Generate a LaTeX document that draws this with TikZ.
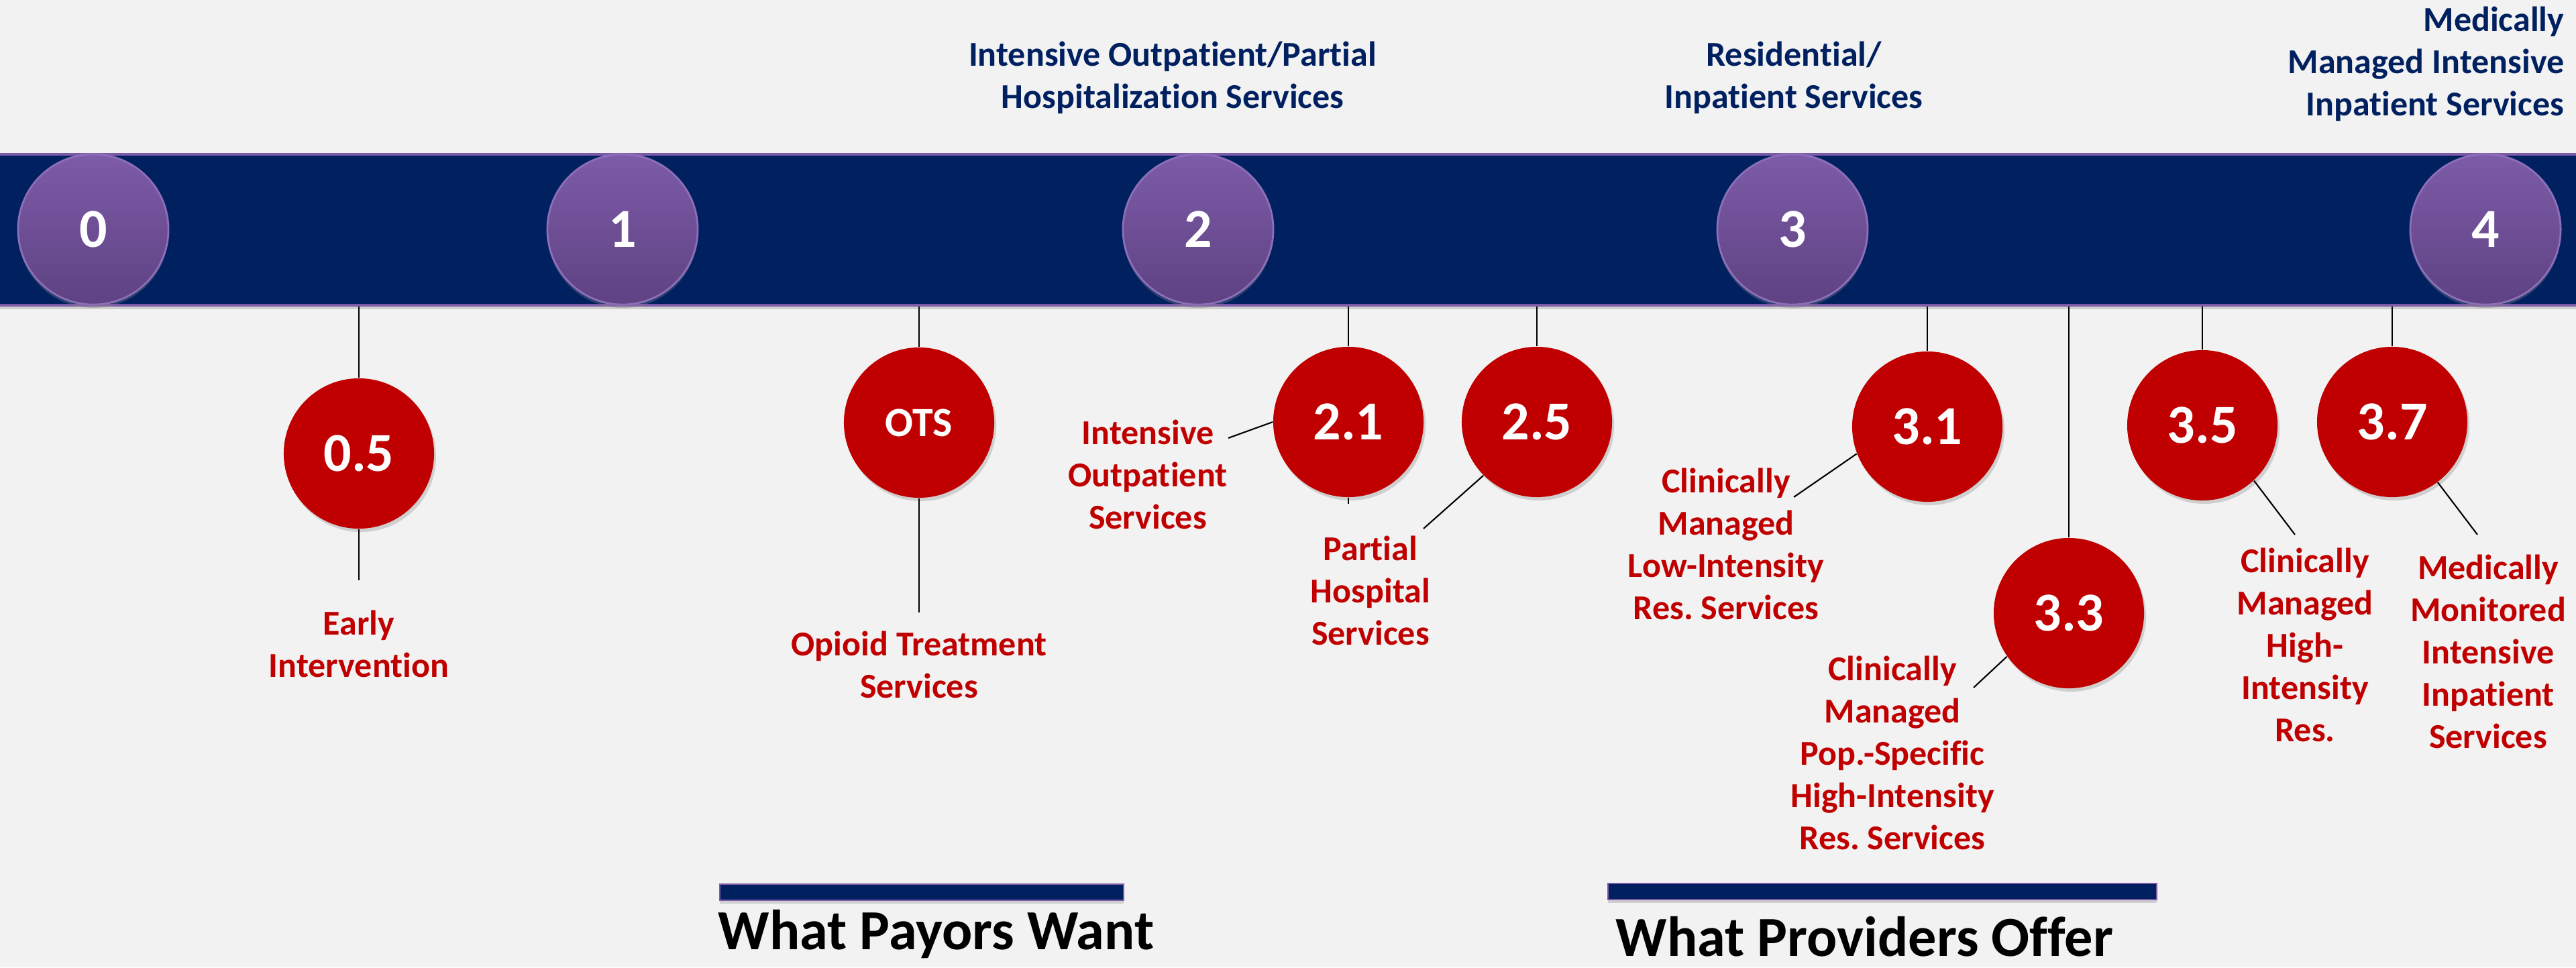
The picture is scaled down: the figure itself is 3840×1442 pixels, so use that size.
\documentclass[tikz,border=0pt]{standalone}
\usepackage{fontspec}
\setmainfont{Carlito}[Ligatures=NoCommon]
\frenchspacing
\usetikzlibrary{positioning,shadows}
\definecolor{navy}{RGB}{0,32,96}
\definecolor{redC}{RGB}{192,0,0}
\definecolor{purpT}{RGB}{125,91,168}
\definecolor{purpB}{RGB}{94,66,130}
\definecolor{purpE}{RGB}{140,110,185}
\definecolor{paper}{RGB}{242,242,242}
\newcommand{\labfont}{\fontsize{14.8}{17.9}\selectfont\bfseries}
\newcommand{\numfont}{\fontsize{23.3}{28}\selectfont\bfseries}
\newcommand{\otsfont}{\fontsize{17.6}{21}\selectfont\bfseries}
\newcommand{\capfont}{\fontsize{24}{28}\selectfont\bfseries}
\begin{document}
\begin{tikzpicture}[x=0.01cm, y=-0.01cm,
    bar/.style = {rectangle, minimum width=39cm, minimum height=2.25cm, inner sep=0pt, fill=navy, draw=purpT, line width=1pt, drop shadow={shadow xshift=0pt, shadow yshift=-0.06cm, opacity=.3}},
    tab/.style = {rectangle, minimum height=0.24cm, inner sep=0pt, fill=navy, draw=purpT, line width=0.6pt, drop shadow={shadow xshift=0pt, shadow yshift=-0.05cm, opacity=.3}},
    level/.style = {circle, minimum size=2.24cm, inner sep=0pt, draw=purpE, line width=0.8pt, top color=purpT, bottom color=purpB, text=white, font=\numfont, drop shadow={shadow xshift=0pt, shadow yshift=-0.05cm, opacity=.35}},
    ball/.style = {circle, minimum size=2.24cm, inner sep=0pt, fill=redC, text=white, font=\numfont, drop shadow={shadow xshift=0.03cm, shadow yshift=-0.05cm, opacity=.3}},
    lab/.style = {text=redC, font=\labfont, align=center, anchor=base, inner sep=0pt},
    head/.style = {text=navy, font=\labfont, align=center, anchor=base, inner sep=0pt},
    capt/.style = {text=black, font=\capfont, anchor=base west, inner sep=0pt},
    wire/.style = {line width=0.6pt}]
    \useasboundingbox (0,0) rectangle (3840,1442);
    \fill[paper] (0,0) rectangle (3840,1442);
    % levels along the bar
    \node[bar] (bar) at (1920,342.5) {};
    \foreach \n/\x in {0/139,1/928,2/1786,3/2672,4/3705}
        \node[level] (lv\n) at (\x,342) {\n};
    % headings (anchored on the last line)
    \node[head] (h2) at (1748,161) {Intensive Outpatient/Partial\\Hospitalization Services};
    \node[head] (h3) at (2674,161) {Residential/\\Inpatient Services};
    \node[head, align=right, anchor=base east] (h4) at (3823,172) {Medically\\Managed Intensive\\Inpatient Services};
    % sub levels
    \node[ball] (l05) at (535,676) {0.5};
    \node[ball, font=\otsfont] (ots) at (1370,630) {OTS};
    \node[ball] (l21) at (2010,629) {2.1};
    \node[ball] (l25) at (2291,629) {2.5};
    \node[ball] (l31) at (2873,636) {3.1};
    \node[ball] (l33) at (3084,914) {3.3};
    \node[ball] (l35) at (3283,634) {3.5};
    \node[ball] (l37) at (3566,629) {3.7};
    \foreach \b in {l05,ots,l21,l25,l31,l33,l35,l37}
        \draw[wire] (bar.south -| \b) -- (\b.north);
    \coordinate (e05) at (535,865);
    \coordinate (eots) at (1370,913);
    \coordinate (e21) at (2010,751);
    \draw[wire] (l05.south) -- (e05);
    \draw[wire] (ots.south) -- (eots);
    \draw[wire] (l21.south) -- (e21);
    % labels (anchored on the last line)
    \node[lab] (t05) at (535,1009) {Early\\Intervention};
    \node[lab] (tots) at (1370,1040) {Opioid Treatment\\Services};
    \node[lab] (t21) at (1711,788) {Intensive\\Outpatient\\Services};
    \node[lab] (t25) at (2043,961) {Partial\\Hospital\\Services};
    \node[lab] (t31) at (2573,923) {Clinically\\Managed\\Low-Intensity\\Res. Services};
    \node[lab] (t33) at (2821,1266) {Clinically\\Managed\\Pop.-Specific\\High-Intensity\\Res. Services};
    \node[lab] (t35) at (3436,1105) {Clinically\\Managed\\High-\\Intensity\\Res.};
    \node[lab] (t37) at (3709,1115) {Medically\\Monitored\\Intensive\\Inpatient\\Services};
    \coordinate (k21) at (1831,653);
    \coordinate (k25) at (2122,788);
    \coordinate (k31) at (2674,741);
    \coordinate (k33) at (2942,1025);
    \coordinate (k35) at (3421,797);
    \coordinate (k37) at (3693,797);
    \draw[wire] (k21) -- (l21.west);
    \draw[wire] (k25) -- (l25.225);
    \draw[wire] (k31) -- (l31.201);
    \draw[wire] (k33) -- (l33.215);
    \draw[wire] (k35) -- (l35.-47);
    \draw[wire] (k37) -- (l37.-53);
    % payors and providers
    \node[tab, minimum width=6.02cm] (payb) at (1374,1330) {};
    \node[tab, minimum width=8.17cm] (provb) at (2806,1329) {};
    \node[capt] (payt) at (1070,1415) {What Payors Want};
    \node[capt] (provt) at (2408,1425) {What Providers Offer};
\end{tikzpicture}
\end{document}
